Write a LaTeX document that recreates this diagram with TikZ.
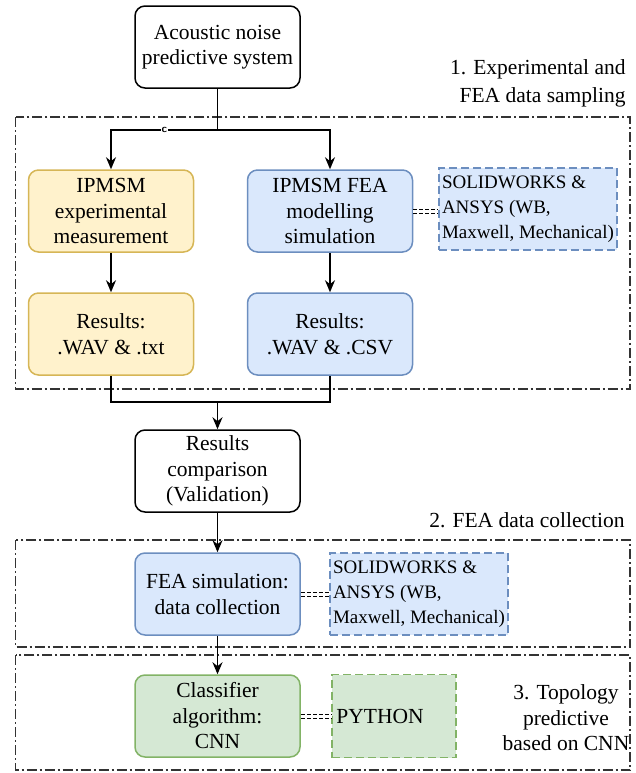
\documentclass[tikz,border=0pt]{standalone}
\usepackage{fontspec}
\setmainfont{Liberation Serif}
\usetikzlibrary{arrows.meta}
\usetikzlibrary{math}
\definecolor{expfill}{RGB}{255,242,204}
\definecolor{expline}{RGB}{214,182,86}
\definecolor{feafill}{RGB}{218,232,252}
\definecolor{fealine}{RGB}{108,142,191}
\definecolor{cnnfill}{RGB}{213,232,212}
\definecolor{cnnline}{RGB}{130,179,102}

\begin{document}
\begin{tikzpicture}[x=0.5pt, y=-0.5pt,
  font=\fontsize{10.75}{12.75}\selectfont,
  box/.style={draw, rounded corners=5pt, line width=0.75pt, minimum width=82.5pt, minimum height=41pt, align=center, inner sep=1pt},
  expbox/.style={box, draw=expline, fill=expfill},
  feabox/.style={box, draw=fealine, fill=feafill},
  cnnbox/.style={box, draw=cnnline, fill=cnnfill},
  toolbox/.style={draw, dash pattern=on 4pt off 2pt, line width=0.75pt, minimum height=41pt, inner sep=1pt},
  arr/.style={-{Stealth[length=6pt, width=5pt]}, line width=0.75pt},
  link/.style={double, double distance=1.5pt, line width=0.5pt, dash pattern=on 2pt off 1pt},
  frame/.style={line width=0.6pt, black!80, dash pattern=on 5pt off 1.5pt on 1pt off 1.5pt},
  cmark/.style={fill=white, inner sep=0.5pt, font=\sffamily\bfseries\fontsize{5.5}{6}\selectfont},
]
\tikzmath{
\xa=111; \xb=217.5; \xc=330;
}
\useasboundingbox (0,0) rectangle (636,773);

% frames
\draw[frame] (15.5,117) rectangle (630,389);
\draw[frame] (15.5,540) rectangle (630,647);
\draw[frame] (15.5,655) rectangle (630,770);

\node[anchor=east, align=right, inner sep=0, font=\fontsize{10.75}{14}\selectfont] (lab1) at (626,83) {1. Experimental and\\FEA data sampling};
\node[anchor=east, inner sep=0] (lab2) at (625,520) {2. FEA data collection};
\node[align=center, inner sep=0] (lab3) at (566,718) {3. Topology\\predictive\\based on CNN};

% boxes
\node[box] (top) at (\xb,47) {Acoustic noise\\predictive system};
\node[expbox] (exp) at (\xa,211) {IPMSM\\experimental\\measurement};
\node[feabox] (fea) at (\xc,211) {IPMSM FEA\\modelling\\simulation};
\node[toolbox, draw=fealine, fill=feafill, minimum width=89pt, align=left, font=\fontsize{9.5}{12.5}\selectfont] (sw1) at (528,209) {SOLIDWORKS \&\\ANSYS (WB,\\Maxwell, Mechanical)};
\node[expbox] (resexp) at (\xa,334) {Results:\\.WAV \& .txt};
\node[feabox] (resfea) at (\xc,334) {Results:\\.WAV \& .CSV};
\node[box] (comp) at (\xb,471) {Results\\comparison\\(Validation)};
\node[feabox] (feasim) at (\xb,594) {FEA simulation:\\data collection};
\node[toolbox, draw=fealine, fill=feafill, minimum width=89pt, align=left, font=\fontsize{9.5}{12.5}\selectfont] (sw2) at (419,594) {SOLIDWORKS \&\\ANSYS (WB,\\Maxwell, Mechanical)};
\node[cnnbox] (cnn) at (\xb,716) {Classifier\\algorithm:\\CNN};
\node[toolbox, draw=cnnline, fill=cnnfill, minimum width=62pt, minimum height=41.5pt, align=left] (py) at (394,716) {PYTHON\hspace{14pt}};

\coordinate (split) at (\xb,130);
\coordinate (merge) at (\xb,402);

% connectors
\draw[line width=0.75pt] (top) -- (split);
\draw[arr] (split) -| node[pos=0.25, cmark] {c} (exp);
\draw[arr] (split) -| (fea);
\draw[arr] (exp) -- (resexp);
\draw[arr] (fea) -- (resfea);
\draw[line width=0.75pt] (resexp) |- (merge);
\draw[line width=0.75pt] (resfea) |- (merge);
\draw[arr] (merge) -- (comp);
\draw[arr] (comp) -- (feasim);
\draw[arr] (feasim) -- (cnn);

\draw[link] (fea.east) -- (fea.east -| sw1.west);
\draw[link] (feasim.east) -- (feasim.east -| sw2.west);
\draw[link] (cnn.east) -- (cnn.east -| py.west);

\end{tikzpicture}
\end{document}
